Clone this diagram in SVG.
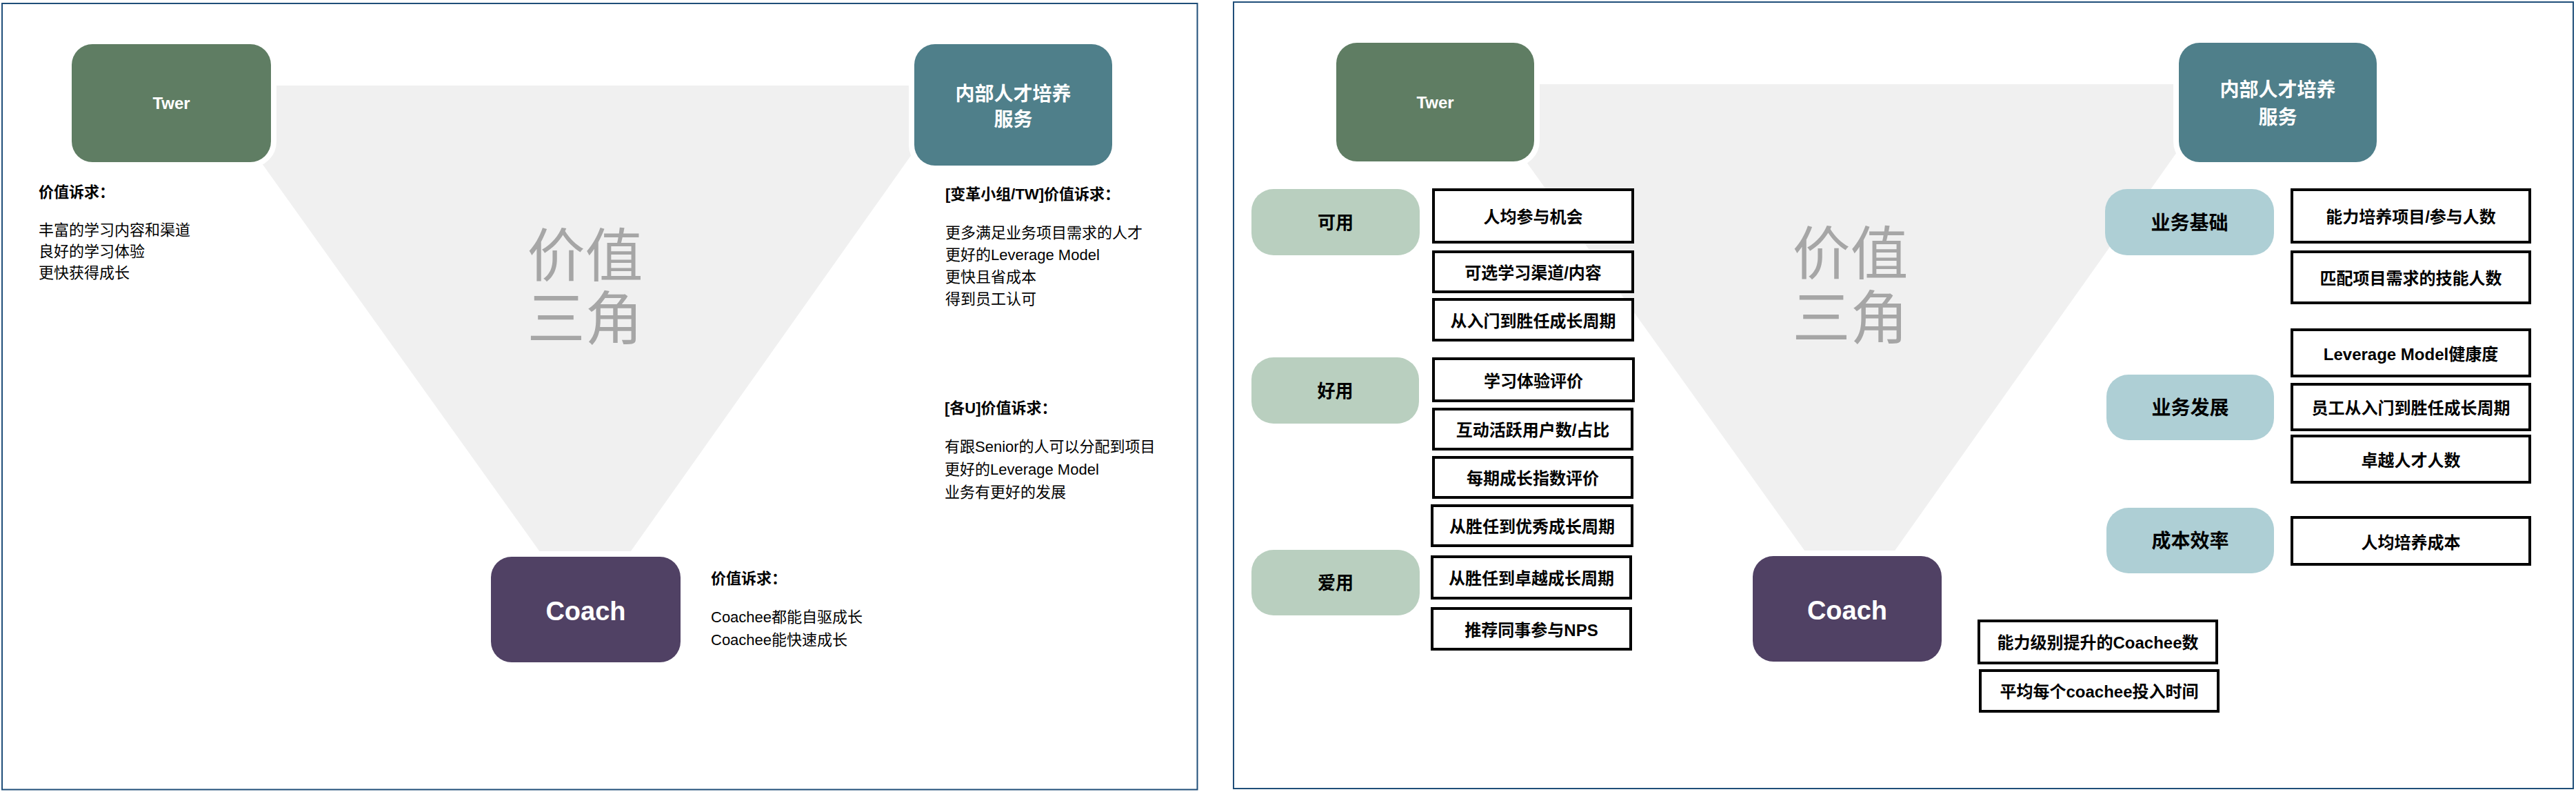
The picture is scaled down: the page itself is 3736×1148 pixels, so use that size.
<svg xmlns="http://www.w3.org/2000/svg" width="3736" height="1148" viewBox="0 0 3736 1148">
<style>
text { font-family: "Liberation Sans", "Noto Sans CJK SC", sans-serif; }
.frame { fill: #ffffff; stroke: #1f4e79; stroke-width: 2; }
.tri { fill: #f0f0f0; }
.halo { stroke: #ffffff; stroke-width: 16; paint-order: stroke; }
.twer { fill: #5f7d63; }
.hr { fill: #4f7f8a; }
.coach { fill: #504164; }
.gpill { fill: #b9cfbf; }
.bpill { fill: #aecfd5; }
.mbox { fill: #ffffff; stroke: #000000; stroke-width: 4; }
.wt { fill: #ffffff; font-weight: bold; text-anchor: middle; }
.big { fill: #a6a6a6; font-size: 84px; text-anchor: middle; }
.body { fill: #000000; font-size: 22px; }
.ttl { font-weight: bold; }
.pt { fill: #000000; font-weight: bold; text-anchor: middle; }
.mt { fill: #000000; font-size: 24px; font-weight: 600; text-anchor: middle; }
</style>

<!-- LEFT PANEL -->
<rect class="frame" x="3" y="5" width="1733.5" height="1139.5"/>
<polygon class="tri" points="299,124 1393,124 849,892"/>
<text class="big" x="848.5" y="401">价值</text>
<text class="big" x="848.5" y="492">三角</text>

<g id="twer-left">
  <rect class="twer halo" x="104" y="64" width="289" height="171" rx="30"/>
  <text class="wt" x="248.5" y="158" font-size="24">Twer</text>
</g>
<g id="hr-left">
  <rect class="hr halo" x="1326" y="64" width="287" height="176" rx="30"/>
  <text class="wt" x="1469.5" y="146" font-size="28">内部人才培养</text>
  <text class="wt" x="1469.5" y="183" font-size="28">服务</text>
</g>
<g id="coach-left">
  <rect class="coach halo" x="712" y="807" width="275" height="153" rx="30"/>
  <text class="wt" x="849.5" y="899" font-size="38">Coach</text>
</g>

<g id="twer-needs">
  <text class="body ttl" x="56" y="286">价值诉求：</text>
  <text class="body" x="56" y="341">丰富的学习内容和渠道</text>
  <text class="body" x="56" y="372">良好的学习体验</text>
  <text class="body" x="56" y="403">更快获得成长</text>
</g>
<g id="tw-needs">
  <text class="body ttl" x="1371" y="289">[变革小组/TW]价值诉求：</text>
  <text class="body" x="1371" y="345">更多满足业务项目需求的人才</text>
  <text class="body" x="1371" y="377">更好的Leverage Model</text>
  <text class="body" x="1371" y="409">更快且省成本</text>
  <text class="body" x="1371" y="441">得到员工认可</text>
</g>
<g id="bu-needs">
  <text class="body ttl" x="1370" y="599">[各U]价值诉求：</text>
  <text class="body" x="1370" y="655">有跟Senior的人可以分配到项目</text>
  <text class="body" x="1370" y="688">更好的Leverage Model</text>
  <text class="body" x="1370" y="721">业务有更好的发展</text>
</g>
<g id="coach-needs">
  <text class="body ttl" x="1031" y="846">价值诉求：</text>
  <text class="body" x="1031" y="902">Coachee都能自驱成长</text>
  <text class="body" x="1031" y="935">Coachee能快速成长</text>
</g>

<!-- RIGHT PANEL -->
<rect class="frame" x="1789" y="3" width="1943" height="1140"/>
<polygon class="tri" points="2133,122 3227,122 2683,890"/>
<text class="big" x="2683.5" y="398">价值</text>
<text class="big" x="2683.5" y="491">三角</text>

<g id="twer-right">
  <rect class="twer halo" x="1938" y="62" width="287" height="172" rx="30"/>
  <text class="wt" x="2081.5" y="157" font-size="24">Twer</text>
</g>
<g id="hr-right">
  <rect class="hr halo" x="3160" y="62" width="287" height="173" rx="30"/>
  <text class="wt" x="3303.5" y="140" font-size="28">内部人才培养</text>
  <text class="wt" x="3303.5" y="180" font-size="28">服务</text>
</g>
<g id="coach-right">
  <rect class="coach halo" x="2542" y="806" width="274" height="153" rx="30"/>
  <text class="wt" x="2679" y="898" font-size="38">Coach</text>
</g>

<g id="pill-keyong">
  <rect class="gpill" x="1815" y="274" width="244" height="96" rx="32"/>
  <text class="pt" x="1937" y="332" font-size="26">可用</text>
</g>
<g id="pill-haoyong">
  <rect class="gpill" x="1815" y="518" width="243" height="96" rx="32"/>
  <text class="pt" x="1936.5" y="576" font-size="26">好用</text>
</g>
<g id="pill-aiyong">
  <rect class="gpill" x="1815" y="797" width="244" height="95" rx="32"/>
  <text class="pt" x="1937" y="854" font-size="26">爱用</text>
</g>

<g id="m1"><rect class="mbox" x="2079" y="275" width="289" height="76"/><text class="mt" x="2223.5" y="323">人均参与机会</text></g>
<g id="m2"><rect class="mbox" x="2079" y="365" width="289" height="58"/><text class="mt" x="2223.5" y="404">可选学习渠道/内容</text></g>
<g id="m3"><rect class="mbox" x="2079" y="434" width="289" height="59"/><text class="mt" x="2223.5" y="474">从入门到胜任成长周期</text></g>
<g id="m4"><rect class="mbox" x="2079" y="520" width="290" height="61"/><text class="mt" x="2224" y="561">学习体验评价</text></g>
<g id="m5"><rect class="mbox" x="2079" y="593" width="288" height="58"/><text class="mt" x="2223" y="632">互动活跃用户数/占比</text></g>
<g id="m6"><rect class="mbox" x="2079" y="663" width="288" height="58"/><text class="mt" x="2223" y="702">每期成长指数评价</text></g>
<g id="m7"><rect class="mbox" x="2077" y="733" width="290" height="58"/><text class="mt" x="2222" y="772">从胜任到优秀成长周期</text></g>
<g id="m8"><rect class="mbox" x="2077" y="807" width="288" height="60"/><text class="mt" x="2221" y="847">从胜任到卓越成长周期</text></g>
<g id="m9"><rect class="mbox" x="2077" y="882" width="288" height="59"/><text class="mt" x="2221" y="922">推荐同事参与NPS</text></g>

<g id="pill-jichu">
  <rect class="bpill" x="3053" y="274" width="245" height="96" rx="32"/>
  <text class="pt" x="3175.5" y="333" font-size="28">业务基础</text>
</g>
<g id="pill-fazhan">
  <rect class="bpill" x="3055" y="543" width="243" height="95" rx="32"/>
  <text class="pt" x="3176.5" y="601" font-size="28">业务发展</text>
</g>
<g id="pill-xiaolv">
  <rect class="bpill" x="3055" y="736" width="243" height="95" rx="32"/>
  <text class="pt" x="3176.5" y="794" font-size="28">成本效率</text>
</g>

<g id="b1"><rect class="mbox" x="3324" y="275" width="345" height="76"/><text class="mt" x="3496.5" y="323">能力培养项目/参与人数</text></g>
<g id="b2"><rect class="mbox" x="3324" y="365" width="345" height="74"/><text class="mt" x="3496.5" y="412">匹配项目需求的技能人数</text></g>
<g id="b3"><rect class="mbox" x="3324" y="478" width="345" height="67"/><text class="mt" x="3496.5" y="522">Leverage Model健康度</text></g>
<g id="b4"><rect class="mbox" x="3324" y="557" width="345" height="66"/><text class="mt" x="3496.5" y="600">员工从入门到胜任成长周期</text></g>
<g id="b5"><rect class="mbox" x="3324" y="632" width="345" height="67"/><text class="mt" x="3496.5" y="676">卓越人才人数</text></g>
<g id="b6"><rect class="mbox" x="3324" y="750" width="345" height="68"/><text class="mt" x="3496.5" y="795">人均培养成本</text></g>

<g id="c1"><rect class="mbox" x="2870" y="900" width="345" height="61"/><text class="mt" x="3042.5" y="940">能力级别提升的Coachee数</text></g>
<g id="c2"><rect class="mbox" x="2872" y="972" width="345" height="59"/><text class="mt" x="3044.5" y="1011">平均每个coachee投入时间</text></g>

<g id="connectors"/>
</svg>
